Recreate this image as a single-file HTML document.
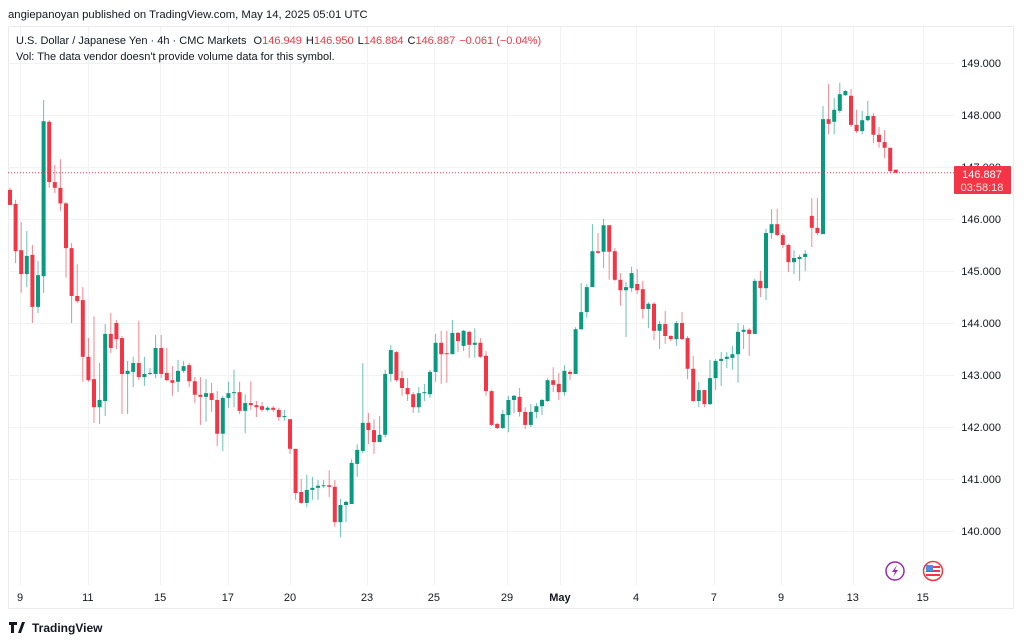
<!DOCTYPE html>
<html><head><meta charset="utf-8">
<style>
body{margin:0;background:#fff;width:1024px;height:642px;overflow:hidden;font-family:"Liberation Sans",sans-serif;}
svg{position:absolute;left:0;top:0}
</style></head>
<body>
<svg id="chart" width="1024" height="642">
  <text x="8" y="18" font-size="11.3" fill="#131722">angiepanoyan published on TradingView.com, May 14, 2025 05:01 UTC</text>
  <rect x="8.5" y="26.5" width="1005" height="582" fill="none" stroke="#e9ebf0"/>
  <g id="grid"></g>
  <g id="candles"></g>
  <text x="16" y="44" font-size="11" fill="#131722">U.S. Dollar / Japanese Yen · 4h · CMC Markets <tspan dx="4">O</tspan><tspan fill="#f23645">146.949</tspan><tspan dx="4">H</tspan><tspan fill="#f23645">146.950</tspan><tspan dx="4">L</tspan><tspan fill="#f23645">146.884</tspan><tspan dx="4">C</tspan><tspan fill="#f23645">146.887</tspan><tspan dx="4" fill="#f23645">−0.061 (−0.04%)</tspan></text>
  <text x="16" y="60" font-size="11" fill="#131722">Vol: The data vendor doesn't provide volume data for this symbol.</text>
  <g id="yaxis"></g>
  <g id="xaxis"></g>
  <line x1="8" x2="954" y1="172.8" y2="172.8" stroke="#f23645" stroke-width="1" stroke-dasharray="1,2"/>
  <rect x="954" y="166" width="57" height="28" rx="1" fill="#f23645"/>
  <text x="982" y="178" font-size="11" fill="#fff" text-anchor="middle">146.887</text>
  <text x="982" y="191" font-size="11" fill="#fde0e3" text-anchor="middle">03:58:18</text>
  <g><circle cx="895" cy="571" r="9" fill="#fff" stroke="#9c27b0" stroke-width="1.5"/><path d="M897 565 L892 572 L895 572 L893 577 L898 570 L895 570 Z" fill="#9c27b0"/></g>
  <g><circle cx="933" cy="571" r="9.5" fill="#fff" stroke="#f23645" stroke-width="1.5"/><rect x="926" y="566" width="14" height="2" fill="#f23645"/><rect x="926" y="570" width="14" height="2" fill="#f23645"/><rect x="926" y="574" width="14" height="2" fill="#f23645"/><rect x="926" y="565" width="7" height="6" fill="#4a90d9"/></g>
  <g><path d="M9 622 h8 v3 h-3 v8 h-3 v-8 h-2 z M18 633 l4 -11 h3 l-4 11 z" fill="#131722"/><text x="32" y="632" font-size="12" font-weight="bold" fill="#131722">TradingView</text></g>
</svg>
<script>
const opens=[146.56,146.29,145.40,144.94,145.31,144.31,144.90,147.87,146.71,146.60,146.30,145.44,144.52,144.44,143.35,142.92,142.38,142.50,143.79,144.00,143.71,143.02,143.06,143.23,142.96,143.02,143.02,143.52,143.04,142.90,142.87,143.08,143.19,142.88,142.62,142.58,142.65,142.52,141.87,142.56,142.65,142.67,142.31,142.46,142.42,142.40,142.33,142.37,142.33,142.19,142.15,141.58,140.75,140.54,140.79,140.83,140.87,140.88,140.85,140.17,140.50,140.52,141.29,141.54,142.08,141.94,141.71,141.85,143.02,143.44,142.94,142.75,142.63,142.38,142.65,142.63,143.06,143.62,143.42,143.40,143.81,143.56,143.83,143.58,143.62,143.37,142.69,142.06,141.98,142.23,142.52,142.58,142.29,142.04,142.29,142.40,142.50,142.90,142.83,142.67,143.06,143.02,143.88,144.21,144.69,145.38,145.37,145.88,145.38,144.83,144.63,144.67,144.75,144.65,144.27,144.37,143.85,143.98,143.75,143.69,144.00,143.71,143.12,142.50,142.71,142.44,142.94,143.27,143.31,143.33,143.40,143.83,143.87,143.79,144.81,144.67,145.73,145.90,145.69,145.50,145.17,145.23,145.27,146.06,145.83,145.71,147.92,147.87,148.08,148.38,148.37,147.81,147.69,147.90,147.98,147.62,147.48,147.37,146.949];
const highs=[146.60,146.37,145.94,145.77,145.50,145.19,148.29,147.90,147.04,147.15,146.33,145.54,145.13,144.69,143.71,144.13,143.23,143.98,144.19,144.06,143.75,143.27,143.35,144.04,143.35,143.13,143.77,143.77,143.52,143.17,143.29,143.27,143.23,142.96,142.96,142.92,142.85,142.69,142.60,142.87,143.10,142.87,142.63,142.88,142.50,142.48,142.40,142.40,142.37,142.33,142.15,141.58,141.00,141.08,141.04,140.98,140.98,141.17,140.98,140.62,140.58,141.38,141.67,143.23,142.27,142.15,142.21,143.10,143.58,143.46,143.08,142.94,142.67,142.77,142.83,143.10,143.79,143.85,143.85,144.06,143.83,143.87,143.85,143.90,143.71,143.46,142.71,142.08,142.33,142.60,142.62,142.75,142.38,142.44,142.46,142.54,142.94,143.15,143.04,143.19,143.10,143.92,144.77,144.75,145.90,145.73,146.00,145.88,145.44,144.96,144.79,145.08,145.04,144.81,144.40,144.40,144.04,144.23,143.77,144.04,144.21,143.75,143.37,142.87,142.71,143.29,143.31,143.44,143.44,143.56,144.00,143.96,143.90,144.85,145.00,145.81,146.19,146.20,145.73,145.52,145.40,145.31,145.40,146.40,146.40,148.17,148.60,148.33,148.62,148.48,148.50,148.10,148.08,148.27,148.04,147.77,147.71,146.950];
const lows=[146.27,145.15,144.58,144.69,144.00,144.19,144.58,146.60,146.50,146.15,144.87,144.00,144.38,142.87,142.87,142.08,142.06,142.21,143.42,143.50,142.25,142.25,142.77,142.90,142.79,143.00,142.94,142.94,142.88,142.60,142.67,143.04,142.77,142.46,142.04,142.10,142.29,141.63,141.54,142.37,142.38,142.25,141.88,142.33,142.19,142.29,142.30,142.29,142.12,142.12,141.48,140.60,140.52,140.46,140.60,140.60,140.83,140.65,140.08,139.88,140.17,140.52,141.04,141.50,141.67,141.48,141.71,141.80,142.87,142.87,142.60,142.50,142.27,142.27,142.50,142.56,142.87,142.83,142.85,143.40,143.44,143.46,143.33,143.33,143.33,142.60,142.02,141.96,141.96,141.90,142.27,142.20,141.96,142.00,142.17,142.23,142.48,142.67,142.52,142.60,142.90,143.02,143.87,144.10,144.73,145.33,145.06,144.83,144.81,144.33,143.73,144.60,144.56,144.08,143.90,143.67,143.50,143.60,143.65,143.56,143.67,142.92,142.48,142.38,142.38,142.42,142.71,142.79,143.13,143.10,142.85,143.50,143.37,143.79,144.50,144.44,145.62,145.67,145.44,144.98,144.94,144.81,145.00,145.46,145.69,145.71,147.63,147.63,148.04,148.37,147.77,147.65,147.63,147.88,147.46,147.37,147.17,146.884];
const closes=[146.27,145.38,144.94,145.29,144.31,144.92,147.88,146.71,146.60,146.30,145.44,144.52,144.42,143.35,142.90,142.38,142.52,143.79,143.52,143.69,143.02,143.08,143.23,142.96,143.02,143.04,143.52,143.02,142.90,142.85,143.08,143.17,142.88,142.62,142.58,142.65,142.52,141.87,142.56,142.65,142.67,142.31,142.46,142.42,142.38,142.33,142.37,142.33,142.19,142.21,141.58,140.73,140.54,140.79,140.83,140.87,140.88,140.85,140.17,140.50,140.56,141.31,141.56,142.08,141.94,141.71,141.85,143.02,143.48,142.90,142.75,142.63,142.38,142.65,142.67,143.06,143.62,143.40,143.40,143.81,143.65,143.85,143.58,143.62,143.35,142.69,142.04,141.98,142.25,142.52,142.60,142.29,142.04,142.29,142.40,142.52,142.90,142.81,142.67,143.08,143.02,143.88,144.21,144.69,145.38,145.35,145.88,145.37,144.83,144.63,144.69,144.96,144.63,144.27,144.37,143.85,143.98,143.75,143.69,144.00,143.69,143.12,142.50,142.71,142.44,142.94,143.27,143.31,143.35,143.40,143.83,143.87,143.79,144.81,144.67,145.73,145.90,145.69,145.50,145.17,145.25,145.27,145.33,145.83,145.73,147.92,147.83,148.10,148.40,148.46,147.81,147.69,147.90,147.98,147.62,147.48,147.37,146.92,146.887];
const priceTicks=[149,148,147,146,145,144,143,142,141,140];
const dateLabels=["9","11","15","17","20","23","25","29","May","4","7","9","13","15"];
const dateIndex=[1.8,13.9,26.8,38.9,50,63.75,75.7,88.75,98.2,111.8,125.7,137.7,150.5,163];

const NS="http://www.w3.org/2000/svg";
function yOf(p){return 63+(149-p)*52;}
function xOf(i){return 10+i*5.6;}
function mk(tag,attrs,parent){const e=document.createElementNS(NS,tag);for(const k in attrs)e.setAttribute(k,attrs[k]);parent.appendChild(e);return e;}
const grid=document.getElementById('grid'),yax=document.getElementById('yaxis'),xax=document.getElementById('xaxis'),cg=document.getElementById('candles');
priceTicks.forEach(p=>{
  const l=mk('line',{x1:9,x2:954,y1:yOf(p)+0.5,y2:yOf(p)+0.5,stroke:'#f0f2f6'},grid);
  
  
  const t=mk('text',{x:1001,y:yOf(p)+4,'font-size':11,fill:'#131722','text-anchor':'end'},yax);
  t.textContent=p.toFixed(3);
  
  
});
dateLabels.forEach((d,k)=>{
  const x=xOf(dateIndex[k]);
  const l=mk('line',{x1:Math.round(x)+0.5,x2:Math.round(x)+0.5,y1:27,y2:585,stroke:'#f0f2f6'},grid);
  
  
  const t=mk('text',{x:x,y:601,'font-size':11,fill:'#131722','text-anchor':'middle','font-weight':d==='May'?'bold':'normal'},xax);
  t.textContent=d;
  
  
});
for(let i=0;i<opens.length;i++){
  const up=closes[i]>=opens[i];
  const col=up?'#089981':'#f23645';
  const x=xOf(i)+(i>142?1:0);
  const w=mk('line',{x1:x,x2:x,y1:yOf(highs[i]),y2:yOf(lows[i]),stroke:col,'stroke-opacity':0.6,'stroke-width':1},cg);
  
  
  const top=yOf(Math.max(opens[i],closes[i])),bot=yOf(Math.min(opens[i],closes[i]));
  const b=mk('rect',{x:x-2,y:top,width:4,height:Math.max(1,bot-top),fill:col},cg);
  
  
}
</script>
</body></html>
